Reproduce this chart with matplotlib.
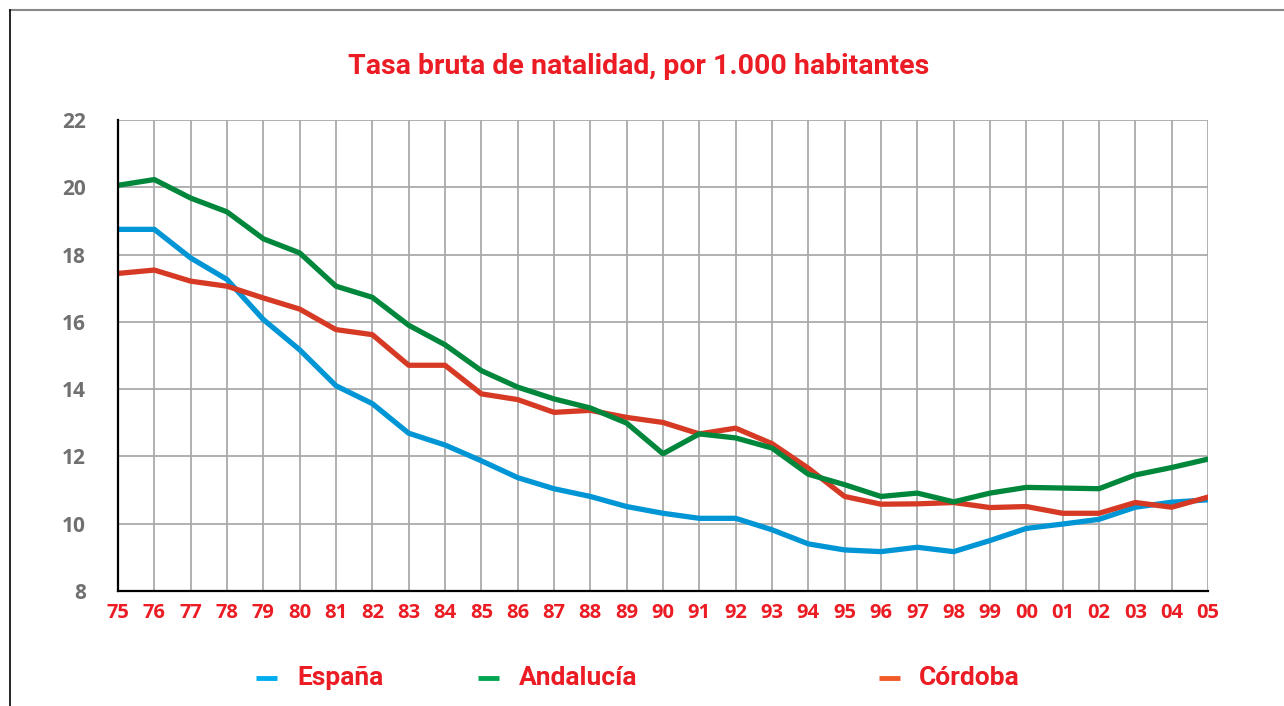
import matplotlib
matplotlib.use("Agg")
import matplotlib.pyplot as plt
from matplotlib.lines import Line2D

# Data (births per 1,000 inhabitants)
years = ["75", "76", "77", "78", "79", "80", "81", "82", "83", "84", "85",
         "86", "87", "88", "89", "90", "91", "92", "93", "94", "95", "96",
         "97", "98", "99", "00", "01", "02", "03", "04", "05"]

espana = [18.75, 18.75, 17.90, 17.26, 16.07, 15.17, 14.10, 13.57, 12.69, 12.34,
          11.87, 11.37, 11.04, 10.81, 10.51, 10.31, 10.16, 10.16, 9.82, 9.40,
          9.22, 9.17, 9.30, 9.17, 9.50, 9.86, 9.99, 10.13, 10.49, 10.64, 10.71]

andalucia = [20.06, 20.23, 19.68, 19.27, 18.47, 18.05, 17.06, 16.73, 15.90, 15.32,
             14.55, 14.06, 13.71, 13.44, 12.99, 12.08, 12.67, 12.55, 12.25, 11.47,
             11.16, 10.81, 10.91, 10.65, 10.91, 11.08, 11.06, 11.04, 11.45, 11.67, 11.92]

cordoba = [17.44, 17.54, 17.21, 17.06, 16.71, 16.38, 15.77, 15.62, 14.71, 14.71,
           13.86, 13.69, 13.31, 13.37, 13.16, 13.01, 12.67, 12.84, 12.38, 11.65,
           10.81, 10.58, 10.59, 10.63, 10.48, 10.51, 10.31, 10.31, 10.63, 10.49, 10.79]

y_ticks = [8, 10, 12, 14, 16, 18, 20, 22]

RED_TEXT = "#ec1c24"
GREY_TEXT = "#707070"
narrow = ["Roboto", "DejaVu Sans"]

fig = plt.figure(figsize=(12.84, 7.06), dpi=100)
ax = fig.add_axes([0.0919, 0.1629, 0.8489, 0.6671])

x = list(range(len(years)))
ax.plot(x, espana, color="#0096d6", linewidth=3.8, zorder=3)
ax.plot(x, cordoba, color="#d63a25", linewidth=3.8, zorder=3)
ax.plot(x, andalucia, color="#00873c", linewidth=3.8, zorder=4)

ax.set_xlim(0, len(years) - 1)
ax.set_ylim(8, 22)
ax.set_xticks(x)
ax.set_xticklabels(years)
ax.set_yticks(y_ticks)
ax.grid(True, color="#aaaaaa", linewidth=1.3, zorder=1)
ax.set_axisbelow(True)

for side in ["top", "right"]:
    ax.spines[side].set_visible(False)
for side in ["left", "bottom"]:
    ax.spines[side].set_linewidth(1.6)
    ax.spines[side].set_color("black")
    ax.spines[side].set_zorder(5)

ax.tick_params(axis="x", length=0, pad=9, labelcolor=RED_TEXT, labelsize=14.5)
ax.tick_params(axis="y", length=0, pad=23, labelcolor=GREY_TEXT, labelsize=15)
for lbl in ax.get_xticklabels() + ax.get_yticklabels():
    lbl.set_fontweight("bold")
    lbl.set_family(["Open Sans", "DejaVu Sans"])

# Title
fig.text(0.497, 1 - 67 / 706, "Tasa bruta de natalidad, por 1.000 habitantes",
         ha="center", va="center", color=RED_TEXT, fontsize=20.5,
         fontweight="bold", family=narrow)

# Frame lines around the graphic (top and left edges)
fig.add_artist(Line2D([10 / 1284, 1], [1 - 10 / 706, 1 - 10 / 706],
                      transform=fig.transFigure, color="#888888", linewidth=1.5))
fig.add_artist(Line2D([10 / 1284, 10 / 1284], [0, 1 - 10 / 706],
                      transform=fig.transFigure, color="black", linewidth=1.2))

# Legend built by hand to keep its uneven spacing
legend_items = [("España", "#00aeef", 256, 297),
                ("Andalucía", "#00a651", 478, 519),
                ("Córdoba", "#f15a29", 879, 919)]
ly = 1 - 678 / 706
for name, col, hx, tx in legend_items:
    fig.add_artist(Line2D([hx / 1284, (hx + 21) / 1284], [ly, ly],
                          transform=fig.transFigure, color=col, linewidth=3.5,
                          solid_capstyle="butt"))
    fig.text(tx / 1284, ly, name, ha="left", va="center", color=RED_TEXT,
             fontsize=19, fontweight="bold", family=narrow)

fig.savefig("out.png", dpi=100)
